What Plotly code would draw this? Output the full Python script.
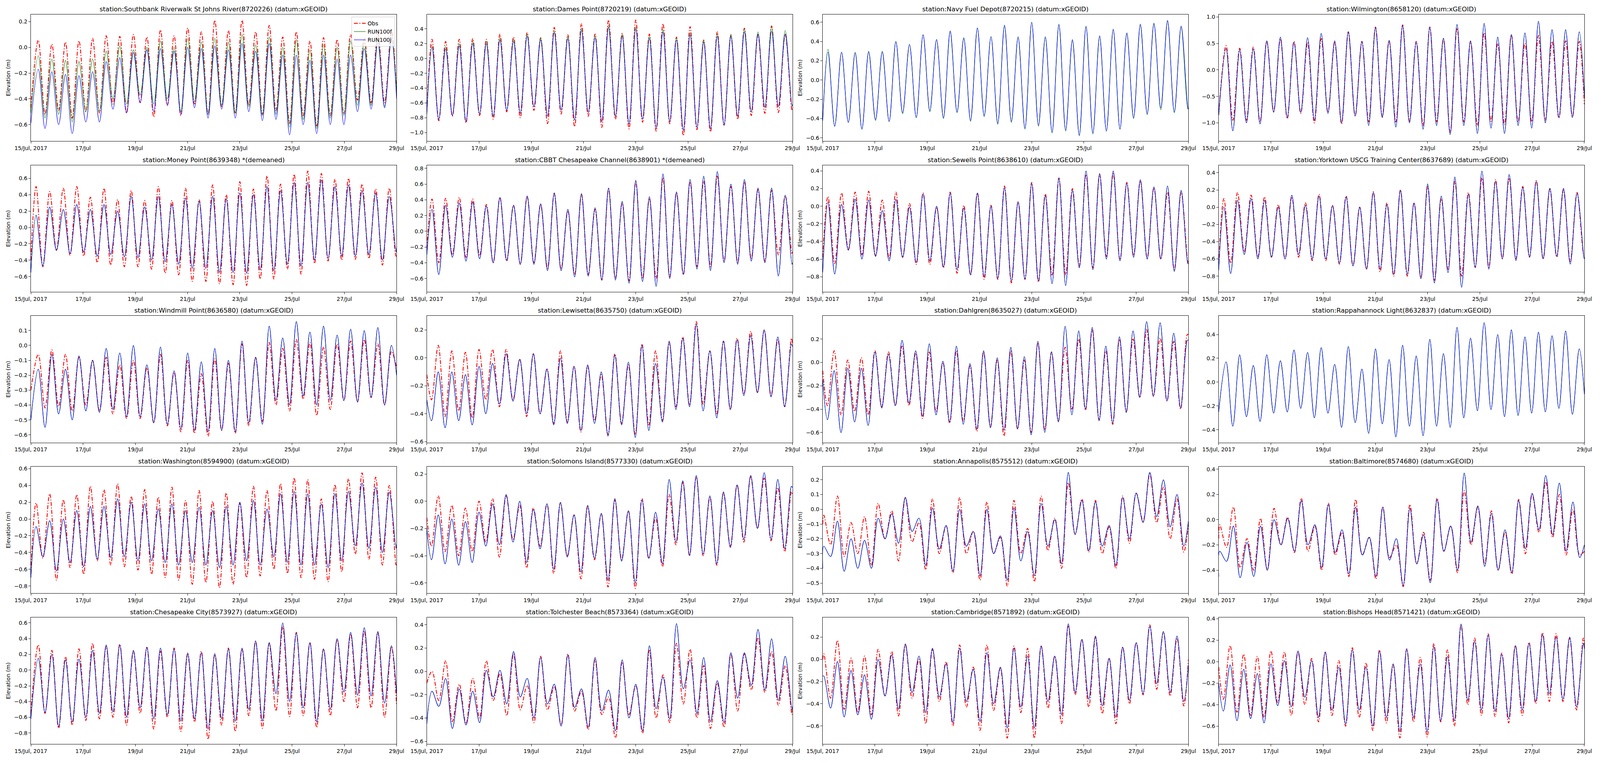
"""Tide gauge comparison: observed water level vs. RUN100f / RUN100j, 15-29 Jul 2017."""

import pandas as pd
import plotly.graph_objects as go
from plotly.subplots import make_subplots

T0 = pd.Timestamp("2017-07-15")
T_END = 336.0  # hours in the window

# Extremum times (hours after 15 Jul 00:00), four phase groups.
ta_hi = [4.8, 17.3, 29.8, 42.2, 54.7, 67.2, 79.7, 92.2, 104.6, 117.1, 129.6, 142.1, 154.6, 167.0,
         179.5, 192.0, 204.5, 217.0, 229.4, 241.9, 254.4, 266.9, 279.4, 291.8, 304.3, 316.8, 329.3]
ta_lo = [11.0, 23.5, 36.0, 48.5, 61.0, 73.4, 85.9, 98.4, 110.9, 123.4, 135.8, 148.3, 160.8, 173.3,
         185.8, 198.2, 210.7, 223.2, 235.7, 248.2, 260.6, 273.1, 285.6, 298.1, 310.6, 323.0, 335.5]
tb_hi = [6.8, 19.3, 31.8, 44.2, 56.7, 69.2, 81.7, 94.2, 106.6, 119.1, 131.6, 144.1, 156.6, 169.0,
         181.5, 194.0, 206.5, 219.0, 231.4, 243.9, 256.4, 268.9, 281.4, 293.8, 306.3, 318.8, 331.3]
tb_lo = [13.0, 25.5, 38.0, 50.5, 63.0, 75.4, 87.9, 100.4, 112.9, 125.4, 137.8, 150.3, 162.8,
         175.3, 187.8, 200.2, 212.7, 225.2, 237.7, 250.2, 262.6, 275.1, 287.6, 300.1, 312.6, 325.0]
tc_hi = [10.5, 23.0, 35.5, 48.0, 60.4, 72.9, 85.4, 97.9, 110.4, 122.8, 135.3, 147.8, 160.3, 172.8,
         185.2, 197.7, 210.2, 222.7, 235.2, 247.6, 260.1, 272.6, 285.1, 297.6, 310.0, 322.5, 335.0]
tc_lo = [4.3, 16.8, 29.3, 41.7, 54.2, 66.7, 79.2, 91.7, 104.1, 116.6, 129.1, 141.6, 154.1, 166.5,
         179.0, 191.5, 204.0, 216.5, 228.9, 241.4, 253.9, 266.4, 278.9, 291.3, 303.8, 316.3, 328.8]
td_hi = [1.0, 13.5, 26.0, 38.4, 50.9, 63.4, 75.9, 88.4, 100.8, 113.3, 125.8, 138.3, 150.8, 163.2,
         175.7, 188.2, 200.7, 213.2, 225.6, 238.1, 250.6, 263.1, 275.6, 288.0, 300.5, 313.0, 325.5]
td_lo = [7.2, 19.7, 32.2, 44.7, 57.2, 69.6, 82.1, 94.6, 107.1, 119.6, 132.0, 144.5, 157.0, 169.5,
         182.0, 194.4, 206.9, 219.4, 231.9, 244.4, 256.8, 269.3, 281.8, 294.3, 306.8, 319.2, 331.7]

XTICK_VALS = ["2017-07-15", "2017-07-17", "2017-07-19", "2017-07-21",
              "2017-07-23", "2017-07-25", "2017-07-27", "2017-07-29"]
XTICK_TEXT = ["15/Jul, 2017", "17/Jul", "19/Jul", "21/Jul", "23/Jul", "25/Jul", "27/Jul", "29/Jul"]

# ---- station values (m): highs, lows, [start, end] ----
southbank_obs_hi = [0.055, 0.025, 0.04, 0.05, 0.07, 0.09, 0.085, 0.10, 0.08, 0.135, 0.09, 0.15, 0.12, 0.21,
                    0.13, 0.21, 0.12, 0.17, 0.08, 0.12, 0.05, 0.075, 0.06, 0.10, 0.07, 0.11, 0.13]
southbank_obs_lo = [-0.52, -0.49, -0.55, -0.50, -0.51, -0.44, -0.51, -0.43, -0.54, -0.45, -0.53, -0.44, -0.52,
                    -0.46, -0.51, -0.45, -0.52, -0.49, -0.59, -0.53, -0.61, -0.53, -0.52, -0.41, -0.43, -0.43]
southbank_obs_end = [-0.47, -0.35]
southbank_f_hi = [-0.065, -0.09, -0.10, -0.11, -0.09, -0.03, 0.01, -0.02, 0.0, 0.05, 0.0, 0.07, 0.04, 0.07,
                  0.04, 0.10, 0.02, 0.08, 0.0, 0.06, -0.02, 0.02, 0.0, 0.05, 0.04, 0.07, 0.10]
southbank_f_lo = [-0.55, -0.52, -0.58, -0.50, -0.50, -0.40, -0.44, -0.37, -0.44, -0.40, -0.50, -0.42, -0.52,
                  -0.45, -0.51, -0.46, -0.53, -0.52, -0.62, -0.56, -0.63, -0.55, -0.53, -0.45, -0.45, -0.46]
southbank_f_end = [-0.51, -0.35]
southbank_j_hi = [-0.17, -0.19, -0.21, -0.22, -0.19, -0.11, -0.08, -0.04, -0.02, -0.01, -0.03, 0.0, -0.01, 0.01,
                  -0.02, 0.03, -0.03, 0.03, -0.06, -0.06, -0.10, -0.06, -0.09, -0.06, -0.01, 0.04, 0.07]
southbank_j_lo = [-0.63, -0.60, -0.67, -0.58, -0.58, -0.48, -0.51, -0.43, -0.50, -0.45, -0.52, -0.47, -0.55,
                  -0.48, -0.55, -0.50, -0.57, -0.56, -0.68, -0.60, -0.67, -0.60, -0.60, -0.50, -0.48, -0.47]
southbank_j_end = [-0.59, -0.40]

dames_obs_hi = [0.26, 0.23, 0.26, 0.27, 0.26, 0.33, 0.29, 0.35, 0.28, 0.42, 0.32, 0.47, 0.33, 0.52,
                0.34, 0.52, 0.33, 0.47, 0.29, 0.43, 0.25, 0.36, 0.31, 0.41, 0.32, 0.44, 0.33]
dames_obs_lo = [-0.84, -0.78, -0.87, -0.77, -0.82, -0.72, -0.80, -0.70, -0.88, -0.75, -0.92, -0.78, -0.93, -0.82,
                -0.95, -0.86, -0.98, -0.88, -1.04, -0.96, -0.99, -0.90, -0.82, -0.77, -0.74, -0.73, -0.70]
dames_obs_end = [-0.72, -0.68]
dames_f_hi = [0.18, 0.16, 0.20, 0.23, 0.23, 0.28, 0.26, 0.33, 0.28, 0.38, 0.30, 0.41, 0.31, 0.45,
              0.33, 0.43, 0.30, 0.39, 0.28, 0.35, 0.25, 0.33, 0.33, 0.40, 0.36, 0.43, 0.38]
dames_j_hi = [0.15, 0.13, 0.17, 0.20, 0.20, 0.25, 0.23, 0.30, 0.25, 0.35, 0.27, 0.38, 0.28, 0.42,
              0.30, 0.40, 0.27, 0.36, 0.25, 0.32, 0.22, 0.30, 0.30, 0.36, 0.33, 0.37, 0.33]
dames_j_lo = [-0.82, -0.77, -0.85, -0.75, -0.78, -0.70, -0.74, -0.65, -0.78, -0.70, -0.83, -0.73, -0.85, -0.78,
              -0.88, -0.82, -0.94, -0.85, -0.97, -0.93, -0.95, -0.90, -0.78, -0.72, -0.66, -0.65, -0.64]
dames_j_end = [-0.75, -0.62]

navy_f_hi = [0.32, 0.29, 0.29, 0.30, 0.30, 0.40, 0.37, 0.47, 0.42, 0.50, 0.43, 0.54, 0.45, 0.56,
             0.44, 0.60, 0.44, 0.57, 0.41, 0.55, 0.45, 0.52, 0.48, 0.57, 0.58, 0.61, 0.55]
navy_f_lo = [-0.48, -0.44, -0.51, -0.42, -0.43, -0.35, -0.39, -0.33, -0.40, -0.34, -0.43, -0.38, -0.46, -0.44,
             -0.51, -0.48, -0.55, -0.53, -0.58, -0.56, -0.53, -0.51, -0.40, -0.36, -0.31, -0.34, -0.30]
navy_f_end = [-0.42, -0.30]
navy_j_hi = [0.29, 0.29, 0.28, 0.29, 0.29, 0.40, 0.37, 0.47, 0.42, 0.51, 0.44, 0.54, 0.45, 0.57,
             0.45, 0.60, 0.45, 0.58, 0.42, 0.56, 0.46, 0.53, 0.49, 0.58, 0.59, 0.62, 0.56]
navy_j_lo = [-0.48, -0.44, -0.51, -0.41, -0.43, -0.34, -0.39, -0.32, -0.39, -0.33, -0.42, -0.37, -0.45, -0.43,
             -0.50, -0.47, -0.54, -0.52, -0.57, -0.55, -0.53, -0.51, -0.39, -0.35, -0.29, -0.33, -0.29]
navy_j_end = [-0.42, -0.30]

wilmington_obs_hi = [0.46, 0.41, 0.43, 0.54, 0.59, 0.54, 0.52, 0.59, 0.52, 0.72, 0.54, 0.81, 0.55, 0.85,
                     0.54, 0.81, 0.59, 0.79, 0.54, 0.70, 0.50, 0.66, 0.50, 0.65, 0.54, 0.55, 0.54]
wilmington_obs_lo = [-0.95, -0.95, -0.98, -0.78, -0.92, -0.82, -1.00, -0.80, -1.02, -0.87, -0.98, -0.88, -0.98,
                     -0.97, -1.05, -0.98, -1.18, -0.98, -1.05, -0.97, -1.03, -0.98, -0.98, -0.95, -0.91, -0.88]
wilmington_obs_end = [-0.85, -0.65]
wilmington_j_hi = [0.40, 0.38, 0.40, 0.55, 0.62, 0.52, 0.61, 0.69, 0.55, 0.72, 0.54, 0.80, 0.56, 0.84,
                   0.53, 0.81, 0.60, 0.86, 0.55, 0.88, 0.62, 0.67, 0.70, 0.92, 0.76, 0.76, 0.72]
wilmington_j_lo = [-1.15, -1.00, -1.02, -0.80, -0.90, -0.80, -0.95, -0.82, -1.00, -0.87, -1.05, -0.90, -1.08,
                   -1.00, -1.12, -1.05, -1.22, -1.05, -1.20, -1.10, -1.20, -1.05, -1.10, -1.00, -0.90, -0.90]
wilmington_j_end = [-0.85, -0.50]

money_obs_hi = [0.50, 0.44, 0.48, 0.50, 0.37, 0.48, 0.34, 0.45, 0.33, 0.50, 0.33, 0.48, 0.34, 0.52,
                0.40, 0.56, 0.47, 0.63, 0.53, 0.65, 0.69, 0.66, 0.59, 0.60, 0.53, 0.47, 0.48]
money_obs_lo = [-0.48, -0.28, -0.34, -0.35, -0.43, -0.46, -0.48, -0.48, -0.51, -0.56, -0.58, -0.66, -0.66, -0.69,
                -0.70, -0.71, -0.63, -0.63, -0.51, -0.57, -0.44, -0.41, -0.40, -0.39, -0.38, -0.46, -0.35]
money_obs_end = [-0.40, -0.35]
money_j_hi = [0.15, 0.25, 0.22, 0.28, 0.22, 0.28, 0.20, 0.38, 0.25, 0.38, 0.28, 0.36, 0.32, 0.38,
              0.35, 0.42, 0.40, 0.50, 0.45, 0.55, 0.55, 0.58, 0.50, 0.52, 0.45, 0.42, 0.38]
money_j_lo = [-0.47, -0.28, -0.32, -0.30, -0.35, -0.33, -0.36, -0.37, -0.40, -0.42, -0.45, -0.50, -0.50, -0.55,
              -0.55, -0.56, -0.52, -0.53, -0.45, -0.47, -0.40, -0.38, -0.35, -0.35, -0.33, -0.40, -0.30]
money_j_end = [-0.55, -0.25]

cbbt_obs_hi = [0.41, 0.42, 0.43, 0.41, 0.34, 0.43, 0.33, 0.44, 0.34, 0.48, 0.26, 0.47, 0.28, 0.54,
               0.36, 0.63, 0.42, 0.68, 0.49, 0.63, 0.64, 0.70, 0.57, 0.63, 0.53, 0.52, 0.45]
cbbt_obs_lo = [-0.40, -0.30, -0.33, -0.31, -0.40, -0.38, -0.42, -0.40, -0.47, -0.48, -0.55, -0.55, -0.62, -0.60,
               -0.63, -0.60, -0.60, -0.58, -0.55, -0.45, -0.45, -0.38, -0.40, -0.35, -0.38, -0.30, -0.28]
cbbt_obs_end = [-0.22, -0.26]
cbbt_j_hi = [0.28, 0.33, 0.36, 0.37, 0.32, 0.43, 0.33, 0.45, 0.35, 0.49, 0.28, 0.48, 0.30, 0.55,
             0.38, 0.65, 0.44, 0.73, 0.50, 0.66, 0.70, 0.76, 0.60, 0.66, 0.55, 0.55, 0.46]
cbbt_j_lo = [-0.55, -0.33, -0.38, -0.35, -0.40, -0.37, -0.42, -0.42, -0.50, -0.50, -0.58, -0.57, -0.62, -0.62,
             -0.66, -0.64, -0.70, -0.60, -0.55, -0.48, -0.50, -0.40, -0.42, -0.38, -0.40, -0.57, -0.42]
cbbt_j_end = [-0.30, -0.40]

sewells_obs_hi = [0.11, 0.15, 0.16, 0.17, 0.07, 0.16, 0.03, 0.15, -0.01, 0.16, 0.01, 0.15, 0.01, 0.23,
                  0.05, 0.27, 0.14, 0.32, 0.20, 0.36, 0.36, 0.37, 0.27, 0.29, 0.21, 0.16, 0.16]
sewells_obs_lo = [-0.65, -0.49, -0.55, -0.56, -0.59, -0.58, -0.66, -0.66, -0.70, -0.76, -0.78, -0.83, -0.83, -0.87,
                  -0.83, -0.86, -0.78, -0.78, -0.68, -0.70, -0.57, -0.61, -0.56, -0.59, -0.60, -0.72, -0.65]
sewells_obs_end = [-0.58, -0.62]
sewells_j_hi = [0.05, 0.02, 0.08, 0.07, -0.05, 0.08, -0.01, 0.14, 0.00, 0.15, -0.02, 0.15, 0.00, 0.21,
                0.05, 0.26, 0.12, 0.32, 0.18, 0.40, 0.37, 0.40, 0.26, 0.30, 0.22, 0.23, 0.18]
sewells_j_lo = [-0.77, -0.50, -0.60, -0.57, -0.62, -0.58, -0.64, -0.62, -0.69, -0.72, -0.78, -0.80, -0.82, -0.85,
                -0.83, -0.85, -0.88, -0.90, -0.70, -0.72, -0.60, -0.62, -0.58, -0.60, -0.60, -0.74, -0.65]
sewells_j_end = [-0.75, -0.65]

yorktown_obs_hi = [0.10, 0.17, 0.14, 0.12, 0.03, 0.12, 0.05, 0.15, 0.02, 0.13, 0.00, 0.18, 0.05, 0.20,
                   0.05, 0.24, 0.10, 0.30, 0.17, 0.34, 0.32, 0.34, 0.24, 0.31, 0.21, 0.20, 0.17]
yorktown_obs_lo = [-0.65, -0.52, -0.58, -0.58, -0.60, -0.58, -0.62, -0.62, -0.66, -0.68, -0.72, -0.75, -0.80, -0.80,
                   -0.82, -0.85, -0.72, -0.80, -0.70, -0.70, -0.60, -0.60, -0.58, -0.60, -0.58, -0.63, -0.55]
yorktown_obs_end = [-0.68, -0.55]
yorktown_j_hi = [0.00, 0.08, 0.10, 0.08, 0.00, 0.14, 0.02, 0.13, 0.02, 0.12, 0.00, 0.17, 0.03, 0.20,
                 0.05, 0.27, 0.13, 0.35, 0.15, 0.42, 0.30, 0.38, 0.23, 0.30, 0.22, 0.22, 0.16]
yorktown_j_lo = [-0.77, -0.55, -0.60, -0.58, -0.60, -0.55, -0.60, -0.60, -0.65, -0.68, -0.72, -0.72, -0.78, -0.78,
                 -0.83, -0.88, -0.76, -0.93, -0.70, -0.72, -0.60, -0.62, -0.58, -0.60, -0.57, -0.66, -0.58]
yorktown_j_end = [-0.73, -0.60]

windmill_obs_hi = [-0.06, -0.03, -0.06, -0.08, -0.10, -0.08, -0.13, -0.10, -0.15, -0.06, -0.18, -0.10, -0.19,
                   -0.09, -0.12, 0.01, -0.08, 0.02, -0.02, 0.04, 0.02, -0.01, 0.01, 0.03, 0.04, 0.01, -0.04]
windmill_obs_lo = [-0.42, -0.41, -0.44, -0.40, -0.44, -0.46, -0.49, -0.49, -0.52, -0.54, -0.58, -0.59, -0.61,
                   -0.57, -0.59, -0.54, -0.51, -0.40, -0.44, -0.36, -0.47, -0.43, -0.37, -0.38, -0.35, -0.40]
windmill_obs_end = [-0.30, -0.15]
windmill_j_hi = [-0.16, -0.06, -0.16, -0.07, -0.10, -0.02, -0.05, 0.00, -0.13, -0.01, -0.17, -0.05, -0.11,
                 -0.02, -0.10, 0.03, -0.08, 0.13, 0.05, 0.16, 0.09, 0.13, 0.07, 0.11, 0.10, 0.12, 0.00]
windmill_j_lo = [-0.55, -0.46, -0.50, -0.44, -0.45, -0.43, -0.48, -0.48, -0.52, -0.53, -0.56, -0.57, -0.58,
                 -0.57, -0.58, -0.52, -0.53, -0.37, -0.40, -0.34, -0.40, -0.37, -0.37, -0.38, -0.35, -0.40]
windmill_j_end = [-0.50, -0.20]

lewisetta_obs_hi = [0.09, 0.05, 0.04, 0.06, 0.06, 0.06, -0.01, 0.03, -0.08, 0.05, -0.06, -0.06, -0.12, 0.03,
                    -0.05, 0.10, 0.05, 0.11, 0.15, 0.26, 0.05, 0.12, 0.14, 0.19, 0.20, 0.13, 0.14]
lewisetta_obs_lo = [-0.30, -0.42, -0.38, -0.43, -0.30, -0.35, -0.30, -0.42, -0.40, -0.47, -0.46, -0.53, -0.45, -0.55,
                    -0.47, -0.55, -0.48, -0.45, -0.35, -0.34, -0.33, -0.40, -0.37, -0.26, -0.25, -0.27, -0.35]
lewisetta_obs_end = [-0.12, 0.10]
lewisetta_j_hi = [-0.10, -0.10, -0.12, -0.06, -0.04, 0.03, -0.01, 0.03, -0.08, 0.00, -0.06, -0.05, -0.10, 0.02,
                  -0.03, 0.09, -0.04, 0.12, 0.14, 0.24, 0.05, 0.12, 0.13, 0.16, 0.20, 0.15, 0.10]
lewisetta_j_lo = [-0.45, -0.50, -0.45, -0.48, -0.40, -0.33, -0.31, -0.40, -0.40, -0.48, -0.47, -0.52, -0.47, -0.56,
                  -0.48, -0.57, -0.52, -0.46, -0.37, -0.35, -0.38, -0.43, -0.37, -0.27, -0.25, -0.28, -0.35]
lewisetta_j_end = [-0.30, 0.08]

dahlgren_obs_hi = [0.10, 0.02, 0.04, 0.10, 0.09, 0.14, 0.08, 0.09, 0.00, 0.10, -0.03, 0.09, 0.02, 0.10,
                   0.02, 0.17, 0.09, 0.13, 0.20, 0.28, 0.10, 0.20, 0.20, 0.28, 0.21, 0.18, 0.24]
dahlgren_obs_lo = [-0.37, -0.45, -0.42, -0.45, -0.38, -0.37, -0.37, -0.48, -0.42, -0.52, -0.50, -0.59, -0.55, -0.63,
                   -0.57, -0.60, -0.58, -0.50, -0.40, -0.41, -0.49, -0.53, -0.42, -0.30, -0.29, -0.33, -0.40]
dahlgren_obs_end = [-0.07, 0.24]
dahlgren_j_hi = [-0.07, -0.05, -0.05, 0.09, 0.07, 0.19, 0.10, 0.16, 0.01, 0.14, -0.01, 0.10, 0.04, 0.13,
                 0.05, 0.18, 0.09, 0.31, 0.27, 0.30, 0.14, 0.22, 0.27, 0.35, 0.34, 0.25, 0.19]
dahlgren_j_lo = [-0.49, -0.60, -0.51, -0.54, -0.39, -0.37, -0.35, -0.46, -0.45, -0.51, -0.53, -0.57, -0.56, -0.58,
                 -0.57, -0.62, -0.60, -0.51, -0.45, -0.40, -0.50, -0.52, -0.43, -0.30, -0.29, -0.33, -0.39]
dahlgren_j_end = [-0.15, 0.19]

rappahannock_j_hi = [0.17, 0.23, 0.14, 0.23, 0.18, 0.27, 0.25, 0.29, 0.15, 0.30, 0.11, 0.28, 0.19, 0.31,
                     0.22, 0.36, 0.24, 0.46, 0.37, 0.50, 0.40, 0.44, 0.38, 0.42, 0.39, 0.43, 0.28]
rappahannock_j_lo = [-0.37, -0.29, -0.33, -0.26, -0.25, -0.22, -0.30, -0.26, -0.38, -0.34, -0.43, -0.35, -0.46,
                     -0.37, -0.45, -0.37, -0.38, -0.30, -0.24, -0.23, -0.29, -0.28, -0.26, -0.25, -0.22, -0.27]
rappahannock_j_end = [-0.25, -0.10]

washington_obs_hi = [0.19, 0.30, 0.23, 0.29, 0.39, 0.35, 0.42, 0.27, 0.35, 0.26, 0.38, 0.22, 0.34, 0.21,
                     0.31, 0.19, 0.39, 0.34, 0.42, 0.49, 0.47, 0.24, 0.41, 0.48, 0.55, 0.50, 0.40]
washington_obs_lo = [-0.47, -0.73, -0.58, -0.66, -0.50, -0.55, -0.57, -0.61, -0.66, -0.70, -0.73, -0.78, -0.76,
                     -0.82, -0.78, -0.70, -0.68, -0.60, -0.65, -0.70, -0.72, -0.75, -0.63, -0.42, -0.48, -0.55, -0.55]
washington_obs_end = [-0.65, -0.52]
washington_j_hi = [-0.09, -0.02, 0.00, 0.10, 0.15, 0.15, 0.24, 0.20, 0.18, 0.12, 0.18, 0.10, 0.14, 0.10,
                   0.15, 0.20, 0.22, 0.12, 0.30, 0.33, 0.30, 0.18, 0.30, 0.33, 0.43, 0.38, 0.32]
washington_j_lo = [-0.45, -0.62, -0.52, -0.57, -0.48, -0.46, -0.45, -0.50, -0.50, -0.52, -0.55, -0.52, -0.55,
                   -0.58, -0.55, -0.50, -0.55, -0.45, -0.52, -0.55, -0.55, -0.58, -0.50, -0.32, -0.35, -0.40, -0.35]
washington_j_end = [-0.70, -0.30]

solomons_obs_hi = [0.04, -0.03, -0.05, 0.00, 0.02, 0.04, -0.03, -0.05, -0.02, -0.01, -0.10, -0.04, -0.09, 0.01,
                   -0.07, 0.02, -0.12, 0.05, 0.14, 0.18, 0.03, 0.06, 0.12, 0.18, 0.17, 0.10, 0.07]
solomons_obs_lo = [-0.33, -0.37, -0.40, -0.37, -0.30, -0.41, -0.28, -0.49, -0.33, -0.53, -0.40, -0.57, -0.43, -0.63,
                   -0.43, -0.64, -0.42, -0.48, -0.32, -0.40, -0.40, -0.47, -0.33, -0.30, -0.20, -0.29, -0.37]
solomons_obs_end = [-0.12, 0.05]
solomons_j_hi = [-0.10, -0.13, -0.15, -0.08, -0.02, 0.05, 0.00, -0.06, -0.02, -0.01, -0.10, -0.03, -0.09, 0.02,
                 -0.07, 0.01, -0.08, 0.16, 0.15, 0.19, 0.04, 0.07, 0.12, 0.19, 0.21, 0.16, 0.11]
solomons_j_lo = [-0.43, -0.46, -0.47, -0.45, -0.33, -0.32, -0.30, -0.45, -0.35, -0.50, -0.41, -0.52, -0.42, -0.58,
                 -0.44, -0.60, -0.42, -0.46, -0.30, -0.40, -0.39, -0.46, -0.34, -0.28, -0.20, -0.28, -0.35]
solomons_j_end = [-0.20, 0.10]

annapolis_obs_hi = [-0.04, 0.09, -0.09, -0.05, 0.04, -0.01, 0.08, -0.09, 0.07, -0.11, 0.08, -0.15, 0.05, -0.19,
                    0.06, -0.13, 0.09, -0.06, 0.18, 0.07, 0.06, -0.12, 0.09, 0.11, 0.24, 0.15, 0.07]
annapolis_obs_lo = [-0.24, -0.32, -0.30, -0.38, -0.20, -0.35, -0.22, -0.41, -0.30, -0.43, -0.30, -0.48, -0.30, -0.52,
                    -0.30, -0.49, -0.28, -0.40, -0.17, -0.29, -0.30, -0.40, -0.23, -0.08, -0.09, -0.20, -0.29]
annapolis_obs_end = [-0.10, -0.10]
annapolis_j_hi = [-0.25, -0.08, -0.20, -0.21, -0.06, -0.03, 0.08, -0.06, 0.01, -0.11, 0.00, -0.15, 0.00, -0.18,
                  0.01, -0.15, 0.04, -0.07, 0.25, 0.06, 0.05, -0.11, 0.08, 0.11, 0.25, 0.20, 0.10]
annapolis_j_lo = [-0.32, -0.42, -0.40, -0.40, -0.20, -0.23, -0.15, -0.38, -0.27, -0.42, -0.25, -0.45, -0.30, -0.48,
                  -0.35, -0.45, -0.25, -0.37, -0.17, -0.28, -0.25, -0.38, -0.20, -0.09, -0.05, -0.12, -0.25]
annapolis_j_end = [-0.40, -0.08]

baltimore_obs_hi = [-0.04, 0.10, -0.15, 0.01, 0.09, 0.02, 0.17, -0.05, 0.13, -0.10, 0.16, -0.14, 0.10, -0.20,
                    0.12, -0.10, 0.17, -0.05, 0.23, 0.10, 0.07, -0.10, 0.16, 0.20, 0.30, 0.20, 0.08]
baltimore_obs_lo = [-0.22, -0.38, -0.40, -0.40, -0.20, -0.26, -0.25, -0.40, -0.28, -0.45, -0.28, -0.47, -0.30, -0.53,
                    -0.35, -0.48, -0.25, -0.42, -0.20, -0.35, -0.40, -0.43, -0.27, -0.10, -0.14, -0.28, -0.28]
baltimore_obs_end = [-0.15, -0.25]
baltimore_j_hi = [-0.25, -0.05, -0.18, -0.05, 0.00, 0.01, 0.15, -0.04, 0.12, -0.08, 0.10, -0.14, 0.10, -0.15,
                  0.09, -0.12, 0.16, -0.05, 0.37, 0.11, 0.05, -0.08, 0.15, 0.21, 0.35, 0.29, 0.14]
baltimore_j_lo = [-0.33, -0.46, -0.45, -0.40, -0.20, -0.25, -0.20, -0.38, -0.26, -0.43, -0.28, -0.45, -0.32, -0.52,
                  -0.35, -0.50, -0.25, -0.40, -0.18, -0.37, -0.40, -0.42, -0.23, -0.08, -0.12, -0.25, -0.30]
baltimore_j_end = [-0.45, -0.20]

chescity_obs_hi = [0.32, 0.25, 0.17, 0.27, 0.34, 0.30, 0.33, 0.24, 0.29, 0.24, 0.28, 0.20, 0.24, 0.20,
                   0.28, 0.27, 0.37, 0.34, 0.55, 0.48, 0.35, 0.27, 0.39, 0.46, 0.50, 0.48, 0.30]
chescity_obs_lo = [-0.55, -0.74, -0.70, -0.64, -0.62, -0.60, -0.70, -0.55, -0.75, -0.60, -0.78, -0.66, -0.88,
                   -0.70, -0.78, -0.58, -0.74, -0.52, -0.59, -0.58, -0.73, -0.58, -0.40, -0.48, -0.48, -0.60]
chescity_obs_end = [-0.55, -0.45]
chescity_j_hi = [0.15, 0.20, 0.13, 0.14, 0.25, 0.32, 0.32, 0.25, 0.29, 0.28, 0.27, 0.22, 0.22, 0.21,
                 0.27, 0.28, 0.37, 0.35, 0.60, 0.47, 0.35, 0.27, 0.40, 0.48, 0.54, 0.49, 0.31]
chescity_j_lo = [-0.54, -0.72, -0.66, -0.60, -0.55, -0.53, -0.60, -0.48, -0.62, -0.57, -0.65, -0.62, -0.75,
                 -0.62, -0.65, -0.50, -0.65, -0.30, -0.40, -0.48, -0.66, -0.50, -0.28, -0.32, -0.33, -0.42]
chescity_j_end = [-0.62, -0.30]

tolchester_obs_hi = [0.00, 0.09, -0.11, -0.06, 0.09, -0.02, 0.15, -0.12, 0.13, -0.13, 0.15, -0.17, 0.10, -0.22,
                     0.08, -0.12, 0.18, -0.03, 0.24, 0.19, 0.05, -0.10, 0.15, 0.15, 0.29, 0.17, 0.05]
tolchester_obs_lo = [-0.25, -0.43, -0.45, -0.40, -0.25, -0.38, -0.33, -0.44, -0.33, -0.46, -0.34, -0.50, -0.37,
                     -0.57, -0.37, -0.53, -0.40, -0.44, -0.28, -0.40, -0.49, -0.48, -0.34, -0.16, -0.18, -0.29, -0.37]
tolchester_obs_end = [-0.10, -0.33]
tolchester_j_hi = [-0.17, -0.06, -0.15, -0.17, 0.01, 0.01, 0.17, -0.06, 0.12, -0.11, 0.14, -0.15, 0.12, -0.16,
                   0.10, -0.11, 0.22, -0.05, 0.41, 0.10, 0.12, -0.08, 0.16, 0.16, 0.36, 0.28, 0.13]
tolchester_j_lo = [-0.30, -0.49, -0.46, -0.44, -0.22, -0.28, -0.22, -0.40, -0.28, -0.47, -0.31, -0.48, -0.34,
                   -0.51, -0.40, -0.51, -0.32, -0.41, -0.15, -0.36, -0.43, -0.44, -0.23, -0.12, -0.16, -0.25, -0.33]
tolchester_j_end = [-0.45, -0.30]

cambridge_obs_hi = [0.05, 0.17, 0.01, 0.03, 0.09, 0.07, 0.13, 0.00, 0.09, -0.02, 0.13, -0.07, 0.13, -0.08,
                    0.12, 0.10, 0.12, 0.03, 0.30, 0.18, 0.20, 0.01, 0.11, 0.15, 0.31, 0.25, 0.19]
cambridge_obs_lo = [-0.35, -0.45, -0.48, -0.50, -0.33, -0.51, -0.35, -0.58, -0.38, -0.60, -0.43, -0.64, -0.46,
                    -0.71, -0.48, -0.71, -0.44, -0.58, -0.32, -0.43, -0.49, -0.58, -0.40, -0.32, -0.27, -0.33, -0.42]
cambridge_obs_end = [0.00, 0.00]
cambridge_j_hi = [-0.15, -0.02, -0.10, -0.14, 0.00, 0.04, 0.14, 0.03, 0.10, -0.04, 0.10, -0.09, 0.06, -0.07,
                  0.10, 0.03, 0.12, 0.03, 0.32, 0.18, 0.21, 0.01, 0.11, 0.15, 0.30, 0.25, 0.21]
cambridge_j_lo = [-0.44, -0.52, -0.50, -0.54, -0.33, -0.45, -0.30, -0.48, -0.34, -0.57, -0.38, -0.56, -0.40,
                  -0.62, -0.43, -0.62, -0.38, -0.50, -0.30, -0.36, -0.42, -0.52, -0.37, -0.31, -0.22, -0.30, -0.38]
cambridge_j_end = [-0.15, -0.05]

bishops_obs_hi = [0.15, 0.07, 0.05, 0.10, 0.09, 0.09, 0.03, 0.09, 0.01, 0.13, -0.01, 0.11, -0.03, 0.12,
                  0.04, 0.17, 0.11, 0.34, 0.22, 0.26, 0.08, 0.15, 0.18, 0.27, 0.26, 0.22, 0.22]
bishops_obs_lo = [-0.35, -0.47, -0.50, -0.52, -0.38, -0.50, -0.40, -0.56, -0.50, -0.60, -0.52, -0.64, -0.57, -0.71,
                  -0.56, -0.70, -0.56, -0.60, -0.40, -0.50, -0.51, -0.57, -0.50, -0.39, -0.37, -0.37, -0.45]
bishops_obs_end = [-0.05, 0.15]
bishops_j_hi = [-0.03, -0.07, -0.11, -0.02, 0.01, 0.10, 0.01, 0.09, -0.05, 0.11, -0.05, 0.10, -0.02, 0.12,
                -0.02, 0.14, 0.05, 0.35, 0.19, 0.25, 0.07, 0.15, 0.17, 0.25, 0.23, 0.23, 0.17]
bishops_j_lo = [-0.46, -0.55, -0.53, -0.57, -0.41, -0.42, -0.33, -0.52, -0.45, -0.58, -0.45, -0.60, -0.52, -0.65,
                -0.52, -0.65, -0.55, -0.55, -0.36, -0.45, -0.46, -0.53, -0.45, -0.37, -0.30, -0.35, -0.42]
bishops_j_end = [-0.20, 0.12]

TIMES = {"A": (ta_hi, ta_lo), "B": (tb_hi, tb_lo), "C": (tc_hi, tc_lo), "D": (td_hi, td_lo)}

# (title, phase group, obs, RUN100f, RUN100j, y range, y dtick)
PANELS = [
    ("station:Southbank Riverwalk St Johns River(8720226) (datum:xGEOID)", "B",
     (southbank_obs_hi, southbank_obs_lo, southbank_obs_end),
     (southbank_f_hi, southbank_f_lo, southbank_f_end),
     (southbank_j_hi, southbank_j_lo, southbank_j_end), [-0.728, 0.255], 0.2),
    ("station:Dames Point(8720219) (datum:xGEOID)", "A",
     (dames_obs_hi, dames_obs_lo, dames_obs_end),
     (dames_f_hi, dames_j_lo, dames_j_end),
     (dames_j_hi, dames_j_lo, dames_j_end), [-1.115, 0.595], 0.2),
    ("station:Navy Fuel Depot(8720215) (datum:xGEOID)", "A", None,
     (navy_f_hi, navy_f_lo, navy_f_end),
     (navy_j_hi, navy_j_lo, navy_j_end), [-0.633, 0.68], 0.2),
    ("station:Wilmington(8658120) (datum:xGEOID)", "B",
     (wilmington_obs_hi, wilmington_obs_lo, wilmington_obs_end),
     (wilmington_j_hi, wilmington_j_lo, wilmington_j_end),
     (wilmington_j_hi, wilmington_j_lo, wilmington_j_end), [-1.343, 1.047], 0.5),
    ("station:Money Point(8639348) *(demeaned)", "A",
     (money_obs_hi, money_obs_lo, money_obs_end),
     (money_j_hi, money_j_lo, money_j_end),
     (money_j_hi, money_j_lo, money_j_end), [-0.787, 0.761], 0.2),
    ("station:CBBT Chesapeake Channel(8638901) *(demeaned)", "A",
     (cbbt_obs_hi, cbbt_obs_lo, cbbt_obs_end),
     (cbbt_j_hi, cbbt_j_lo, cbbt_j_end),
     (cbbt_j_hi, cbbt_j_lo, cbbt_j_end), [-0.769, 0.84], 0.2),
    ("station:Sewells Point(8638610) (datum:xGEOID)", "A",
     (sewells_obs_hi, sewells_obs_lo, sewells_obs_end),
     (sewells_j_hi, sewells_j_lo, sewells_j_end),
     (sewells_j_hi, sewells_j_lo, sewells_j_end), [-0.971, 0.465], 0.2),
    ("station:Yorktown USCG Training Center(8637689) (datum:xGEOID)", "A",
     (yorktown_obs_hi, yorktown_obs_lo, yorktown_obs_end),
     (yorktown_j_hi, yorktown_j_lo, yorktown_j_end),
     (yorktown_j_hi, yorktown_j_lo, yorktown_j_end), [-0.982, 0.487], 0.2),
    ("station:Windmill Point(8636580) (datum:xGEOID)", "B",
     (windmill_obs_hi, windmill_obs_lo, windmill_obs_end),
     (windmill_j_hi, windmill_j_lo, windmill_j_end),
     (windmill_j_hi, windmill_j_lo, windmill_j_end), [-0.652, 0.198], 0.1),
    ("station:Lewisetta(8635750) (datum:xGEOID)", "C",
     (lewisetta_obs_hi, lewisetta_obs_lo, lewisetta_obs_end),
     (lewisetta_j_hi, lewisetta_j_lo, lewisetta_j_end),
     (lewisetta_j_hi, lewisetta_j_lo, lewisetta_j_end), [-0.606, 0.30], 0.2),
    ("station:Dahlgren(8635027) (datum:xGEOID)", "C",
     (dahlgren_obs_hi, dahlgren_obs_lo, dahlgren_obs_end),
     (dahlgren_j_hi, dahlgren_j_lo, dahlgren_j_end),
     (dahlgren_j_hi, dahlgren_j_lo, dahlgren_j_end), [-0.686, 0.398], 0.2),
    ("station:Rappahannock Light(8632837) (datum:xGEOID)", "B", None,
     (rappahannock_j_hi, rappahannock_j_lo, rappahannock_j_end),
     (rappahannock_j_hi, rappahannock_j_lo, rappahannock_j_end), [-0.507, 0.556], 0.2),
    ("station:Washington(8594900) (datum:xGEOID)", "A",
     (washington_obs_hi, washington_obs_lo, washington_obs_end),
     (washington_j_hi, washington_j_lo, washington_j_end),
     (washington_j_hi, washington_j_lo, washington_j_end), [-0.887, 0.624], 0.2),
    ("station:Solomons Island(8577330) (datum:xGEOID)", "C",
     (solomons_obs_hi, solomons_obs_lo, solomons_obs_end),
     (solomons_j_hi, solomons_j_lo, solomons_j_end),
     (solomons_j_hi, solomons_j_lo, solomons_j_end), [-0.676, 0.254], 0.2),
    ("station:Annapolis(8575512) (datum:xGEOID)", "D",
     (annapolis_obs_hi, annapolis_obs_lo, annapolis_obs_end),
     (annapolis_j_hi, annapolis_j_lo, annapolis_j_end),
     (annapolis_j_hi, annapolis_j_lo, annapolis_j_end), [-0.569, 0.289], 0.1),
    ("station:Baltimore(8574680) (datum:xGEOID)", "D",
     (baltimore_obs_hi, baltimore_obs_lo, baltimore_obs_end),
     (baltimore_j_hi, baltimore_j_lo, baltimore_j_end),
     (baltimore_j_hi, baltimore_j_lo, baltimore_j_end), [-0.583, 0.42], 0.2),
    ("station:Chesapeake City(8573927) (datum:xGEOID)", "B",
     (chescity_obs_hi, chescity_obs_lo, chescity_obs_end),
     (chescity_j_hi, chescity_j_lo, chescity_j_end),
     (chescity_j_hi, chescity_j_lo, chescity_j_end), [-0.94, 0.67], 0.2),
    ("station:Tolchester Beach(8573364) (datum:xGEOID)", "A",
     (tolchester_obs_hi, tolchester_obs_lo, tolchester_obs_end),
     (tolchester_j_hi, tolchester_j_lo, tolchester_j_end),
     (tolchester_j_hi, tolchester_j_lo, tolchester_j_end), [-0.623, 0.463], 0.2),
    ("station:Cambridge(8571892) (datum:xGEOID)", "D",
     (cambridge_obs_hi, cambridge_obs_lo, cambridge_obs_end),
     (cambridge_j_hi, cambridge_j_lo, cambridge_j_end),
     (cambridge_j_hi, cambridge_j_lo, cambridge_j_end), [-0.763, 0.378], 0.2),
    ("station:Bishops Head(8571421) (datum:xGEOID)", "C",
     (bishops_obs_hi, bishops_obs_lo, bishops_obs_end),
     (bishops_j_hi, bishops_j_lo, bishops_j_end),
     (bishops_j_hi, bishops_j_lo, bishops_j_end), [-0.766, 0.412], 0.2),
]

STYLES = [
    ("Obs", dict(color="red", width=2.2, dash="10px,4px,2.5px,4px")),
    ("RUN100f", dict(color="green", width=1.2)),
    ("RUN100j", dict(color="blue", width=1.2)),
]

# The browser viewport is capped at 4096 px wide, so the 5150x1950 reference
# layout is laid out proportionally inside it (the body keeps an 8 px margin).
VIEW_W, VIEW_H = 4096, 1950
FIG_W, FIG_H = VIEW_W - 16, VIEW_H - 16
SX = VIEW_W / 5150
PLOT_L, PLOT_R = 78 * SX - 8, FIG_W - (5113 * SX - 8)
PLOT_T, PLOT_B = 37 - 8, FIG_H - (1915 - 8)
PLOT_W = FIG_W - PLOT_L - PLOT_R
PLOT_H = FIG_H - PLOT_T - PLOT_B


def build_series(group, values):
    """Merge high/low values with the group's extremum times, in time order."""
    t_hi, t_lo = TIMES[group]
    hi, lo, ends = values
    pts = [(0.0, ends[0])] + list(zip(t_hi, hi)) + list(zip(t_lo, lo)) + [(T_END, ends[1])]
    pts.sort(key=lambda p: p[0])
    x = T0 + pd.to_timedelta([p[0] for p in pts], unit="h")
    return x, [p[1] for p in pts]


fig = make_subplots(
    rows=5,
    cols=4,
    horizontal_spacing=98 * SX / PLOT_W,
    vertical_spacing=62 / PLOT_H,
    subplot_titles=[p[0] for p in PANELS],
)

for i, (title, group, obs, run_f, run_j, yrange, dtick) in enumerate(PANELS):
    row, col = i // 4 + 1, i % 4 + 1
    for (name, line), values in zip(STYLES, (obs, run_f, run_j)):
        if values is None:
            continue
        x, y = build_series(group, values)
        fig.add_trace(
            go.Scatter(
                x=x,
                y=y,
                mode="lines",
                name=name,
                line=dict(shape="spline", smoothing=1.0, **line),
                showlegend=(i == 0),
            ),
            row=row,
            col=col,
        )
    fig.update_yaxes(range=yrange, dtick=dtick, tick0=0, tickformat=".1f", row=row, col=col)
    if col in (1, 3):
        fig.update_yaxes(title_text="Elevation (m)", title_standoff=6, row=row, col=col)

axis_style = dict(
    showline=True,
    linecolor="black",
    linewidth=1,
    mirror=True,
    ticks="outside",
    ticklen=5,
    tickwidth=1,
    tickcolor="black",
    showgrid=False,
    zeroline=False,
    tickfont=dict(size=14),
)
fig.update_xaxes(
    type="date",
    range=["2017-07-15", "2017-07-29"],
    tickvals=XTICK_VALS,
    ticktext=XTICK_TEXT,
    **axis_style,
)
fig.update_yaxes(title_font=dict(size=14), **axis_style)
fig.update_annotations(font=dict(size=16.5, family="DejaVu Sans", color="black"), yshift=2)

fig.update_layout(
    width=FIG_W,
    height=FIG_H,
    margin=dict(l=PLOT_L, r=PLOT_R, t=PLOT_T, b=PLOT_B),
    paper_bgcolor="white",
    plot_bgcolor="white",
    font=dict(family="DejaVu Sans", size=14, color="black"),
    showlegend=True,
    legend=dict(
        x=(1258 * SX - 8 - PLOT_L) / PLOT_W,
        y=(FIG_H - PLOT_B - (43 - 8)) / PLOT_H,
        xanchor="right",
        yanchor="top",
        bgcolor="rgba(255,255,255,0.8)",
        bordercolor="#cccccc",
        borderwidth=1,
        font=dict(size=14),
        tracegroupgap=0,
    ),
)

fig.write_html("out.html")
